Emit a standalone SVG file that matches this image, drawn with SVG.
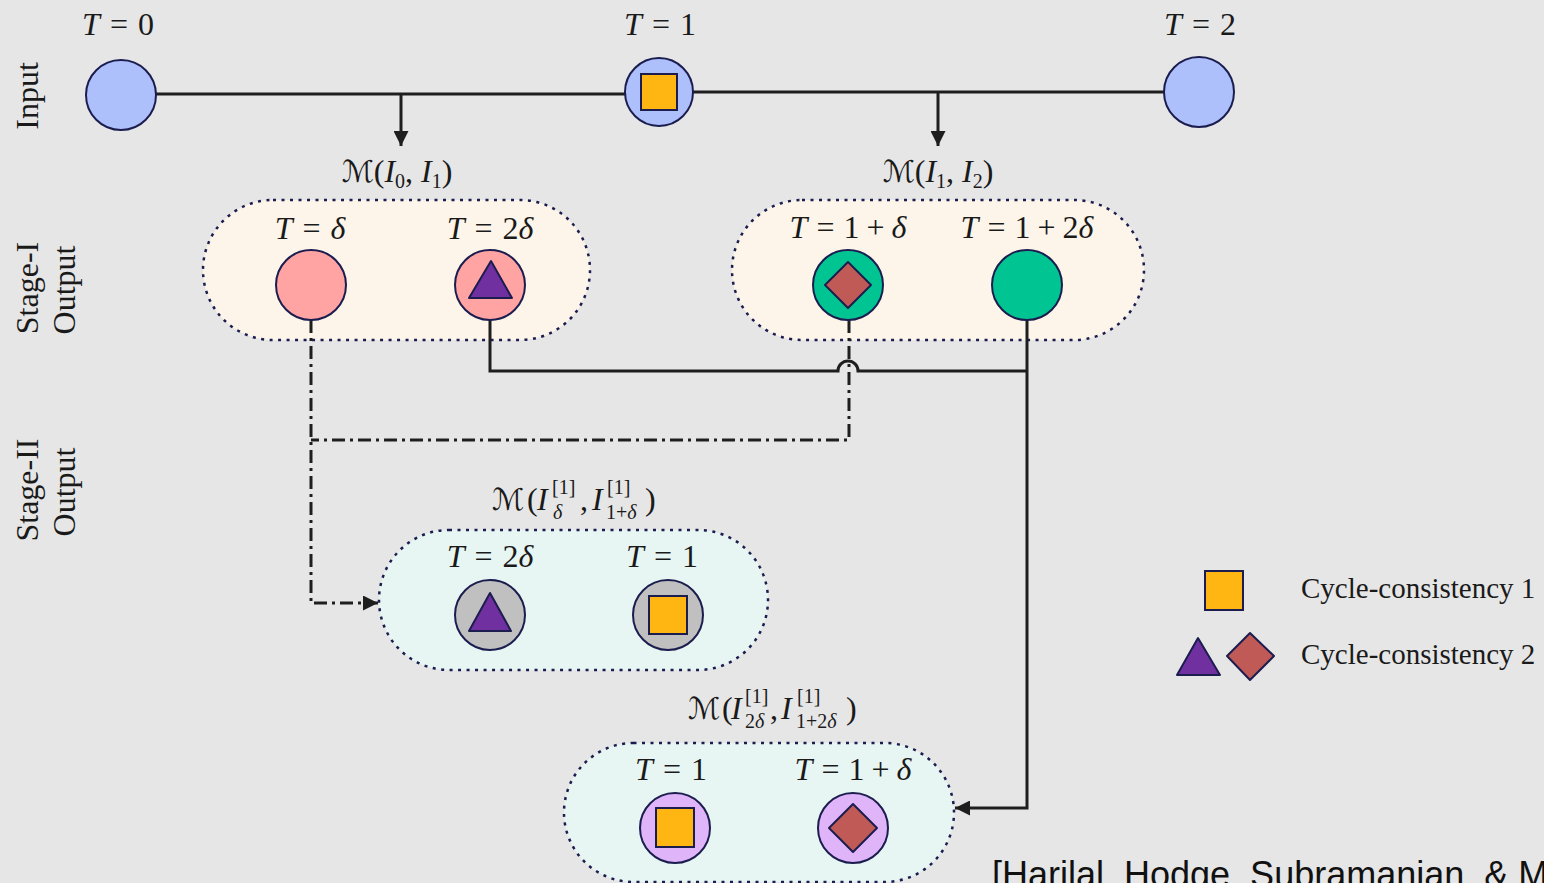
<svg xmlns="http://www.w3.org/2000/svg" width="1544" height="883" viewBox="0 0 1544 883">
<defs>
<style>
.t{font-family:"Liberation Serif","DejaVu Serif",serif;font-size:32px;fill:#1a1a1a}
.s{font-size:20px}
.i{font-style:italic}
.cal{font-family:"DejaVu Serif","DejaVu Sans",serif;font-size:30px;fill:#1a1a1a}
.side{font-family:"Liberation Serif","DejaVu Serif",serif;font-size:32px;fill:#1a1a1a}
.node{stroke:#1b1d4f;stroke-width:2}
.box{stroke:#1b1d4f;stroke-width:2.5;stroke-dasharray:3 5.5}
.sq{fill:#ffb612;stroke:#1b1d4f;stroke-width:2}
.tri{fill:#7030a0;stroke:#1b1d4f;stroke-width:2;stroke-linejoin:round}
.dia{fill:#c05a57;stroke:#1b1d4f;stroke-width:2;stroke-linejoin:round}
.c{fill:none;stroke:#1e1e1e;stroke-width:3}
.dd{stroke-dasharray:13 5 3 5}
</style>
<marker id="ah" viewBox="0 0 10 10" refX="10" refY="5" markerWidth="5" markerHeight="5" markerUnits="strokeWidth" orient="auto">
<path d="M0,0 L10,5 L0,10 z" fill="#1e1e1e"/>
</marker>
</defs>
<rect width="1544" height="883" fill="#e6e6e6"/>

<!-- side labels -->
<g id="side-labels">
<text class="side" text-anchor="middle" transform="translate(38,96) rotate(-90)">Input</text>
<text class="side" text-anchor="middle" transform="translate(38,288) rotate(-90)">Stage-I</text>
<text class="side" text-anchor="middle" transform="translate(75,290) rotate(-90)">Output</text>
<text class="side" text-anchor="middle" transform="translate(38,490) rotate(-90)">Stage-II</text>
<text class="side" text-anchor="middle" transform="translate(75,492) rotate(-90)">Output</text>
</g>

<!-- group boxes -->
<g id="box-m01">
<rect class="box" x="203" y="200" width="387" height="140" rx="70" fill="#fdf5ea"/>
<text class="t" x="397" y="182" text-anchor="middle"><tspan class="cal">ℳ</tspan>(<tspan class="i">I</tspan><tspan class="s" dy="6">0</tspan><tspan dy="-6">, </tspan><tspan class="i">I</tspan><tspan class="s" dy="6">1</tspan><tspan dy="-6">)</tspan></text>
</g>
<g id="box-m12">
<rect class="box" x="732" y="200" width="412" height="140" rx="70" fill="#fdf5ea"/>
<text class="t" x="938" y="182" text-anchor="middle"><tspan class="cal">ℳ</tspan>(<tspan class="i">I</tspan><tspan class="s" dy="6">1</tspan><tspan dy="-6">, </tspan><tspan class="i">I</tspan><tspan class="s" dy="6">2</tspan><tspan dy="-6">)</tspan></text>
</g>
<g id="box-s2a">
<rect class="box" x="379" y="530" width="389" height="140" rx="70" fill="#e7f6f3"/>
<text class="cal" x="492" y="510">ℳ</text>
<text class="t" x="527" y="510">(</text>
<text class="t i" x="537" y="510">I</text>
<text class="t s" x="552" y="494">[1]</text>
<text class="t s i" x="553" y="519">δ</text>
<text class="t" x="580" y="510">,</text>
<text class="t i" x="592" y="510">I</text>
<text class="t s" x="607" y="494">[1]</text>
<text class="t s" x="606" y="519">1+<tspan class="i">δ</tspan></text>
<text class="t" x="645" y="510">)</text>
</g>
<g id="box-s2b">
<rect class="box" x="564" y="743" width="390" height="139" rx="69.5" fill="#e7f6f3"/>
<text class="cal" x="688" y="719">ℳ</text>
<text class="t" x="722" y="719">(</text>
<text class="t i" x="731" y="719">I</text>
<text class="t s" x="745" y="703">[1]</text>
<text class="t s" x="745" y="728">2<tspan class="i">δ</tspan></text>
<text class="t" x="770" y="719">,</text>
<text class="t i" x="781" y="719">I</text>
<text class="t s" x="797" y="703">[1]</text>
<text class="t s" x="796" y="728">1+2<tspan class="i">δ</tspan></text>
<text class="t" x="846" y="719">)</text>
</g>

<!-- connectors -->
<g id="connectors">
<line class="c" x1="156" y1="94" x2="625" y2="94"/>
<line class="c" x1="693" y1="92" x2="1164" y2="92"/>
<line class="c" x1="401" y1="94" x2="401" y2="146" marker-end="url(#ah)"/>
<line class="c" x1="938" y1="92" x2="938" y2="146" marker-end="url(#ah)"/>
<path class="c" d="M490,320 V371 H838 A10,10 0 0 1 858,371 H1027"/>
<path class="c" d="M1027,320 V808 H955" marker-end="url(#ah)"/>
<path class="c dd" d="M311,320 V603 H378" marker-end="url(#ah)"/>
<path class="c dd" d="M849,320 V440 H311"/>
</g>

<!-- input nodes -->
<g id="in-t0">
<circle class="node" cx="121" cy="95" r="35" fill="#aec0fc"/>
<text class="t" x="118" y="35" text-anchor="middle"><tspan class="i">T</tspan><tspan dx="10">=</tspan><tspan dx="10">0</tspan></text>
</g>
<g id="in-t1">
<circle class="node" cx="659" cy="92" r="34" fill="#aec0fc"/>
<rect class="sq" x="641" y="74" width="36" height="36"/>
<text class="t" x="660" y="35" text-anchor="middle"><tspan class="i">T</tspan><tspan dx="10">=</tspan><tspan dx="10">1</tspan></text>
</g>
<g id="in-t2">
<circle class="node" cx="1199" cy="92" r="35" fill="#aec0fc"/>
<text class="t" x="1200" y="35" text-anchor="middle"><tspan class="i">T</tspan><tspan dx="10">=</tspan><tspan dx="10">2</tspan></text>
</g>

<!-- stage I nodes -->
<g id="s1-d">
<circle class="node" cx="311" cy="285" r="35" fill="#ffa3a3"/>
<text class="t" x="310" y="239" text-anchor="middle"><tspan class="i">T</tspan><tspan dx="10">=</tspan><tspan class="i" dx="10">δ</tspan></text>
</g>
<g id="s1-2d">
<circle class="node" cx="490" cy="285" r="35" fill="#ffa3a3"/>
<polygon class="tri" points="491,261 512,298 469,298"/>
<text class="t" x="490" y="239" text-anchor="middle"><tspan class="i">T</tspan><tspan dx="10">=</tspan><tspan dx="10">2</tspan><tspan class="i">δ</tspan></text>
</g>
<g id="s1-1d">
<circle class="node" cx="848" cy="285" r="35" fill="#00c592"/>
<polygon class="dia" points="848,262 871,285 848,308 825,285"/>
<text class="t" x="848" y="238" text-anchor="middle"><tspan class="i">T</tspan><tspan dx="9">=</tspan><tspan dx="9">1</tspan><tspan dx="7">+</tspan><tspan class="i" dx="7">δ</tspan></text>
</g>
<g id="s1-12d">
<circle class="node" cx="1027" cy="285" r="35" fill="#00c592"/>
<text class="t" x="1027" y="238" text-anchor="middle"><tspan class="i">T</tspan><tspan dx="9">=</tspan><tspan dx="9">1</tspan><tspan dx="7">+</tspan><tspan dx="7">2</tspan><tspan class="i">δ</tspan></text>
</g>

<!-- stage II nodes -->
<g id="s2a-2d">
<circle class="node" cx="490" cy="615" r="35" fill="#c0c0c0"/>
<polygon class="tri" points="490,593 511,631 469,631"/>
<text class="t" x="490" y="567" text-anchor="middle"><tspan class="i">T</tspan><tspan dx="10">=</tspan><tspan dx="10">2</tspan><tspan class="i">δ</tspan></text>
</g>
<g id="s2a-1">
<circle class="node" cx="668" cy="615" r="35" fill="#c0c0c0"/>
<rect class="sq" x="649" y="596" width="38" height="38"/>
<text class="t" x="662" y="567" text-anchor="middle"><tspan class="i">T</tspan><tspan dx="10">=</tspan><tspan dx="10">1</tspan></text>
</g>
<g id="s2b-1">
<circle class="node" cx="675" cy="828" r="35" fill="#e0b4f8"/>
<rect class="sq" x="656" y="808" width="38" height="39"/>
<text class="t" x="671" y="780" text-anchor="middle"><tspan class="i">T</tspan><tspan dx="10">=</tspan><tspan dx="10">1</tspan></text>
</g>
<g id="s2b-1d">
<circle class="node" cx="853" cy="828" r="35" fill="#e0b4f8"/>
<polygon class="dia" points="853,804 877,828 853,852 829,828"/>
<text class="t" x="853" y="780" text-anchor="middle"><tspan class="i">T</tspan><tspan dx="9">=</tspan><tspan dx="9">1</tspan><tspan dx="7">+</tspan><tspan class="i" dx="7">δ</tspan></text>
</g>

<!-- legend -->
<g id="legend">
<rect class="sq" x="1205" y="571" width="38" height="39"/>
<polygon class="tri" points="1198,638 1220,675 1177,675"/>
<polygon class="dia" points="1250,633 1274,656 1250,680 1227,656"/>
<text class="t" x="1301" y="598" style="font-size:29px">Cycle-consistency 1</text>
<text class="t" x="1301" y="664" style="font-size:29px">Cycle-consistency 2</text>
</g>

<text id="citation" x="992" y="887" style="font-family:'Liberation Sans',Arial,sans-serif;font-size:36px;fill:#111">[Harilal, Hodge, Subramanian, &amp; M</text>
</svg>
